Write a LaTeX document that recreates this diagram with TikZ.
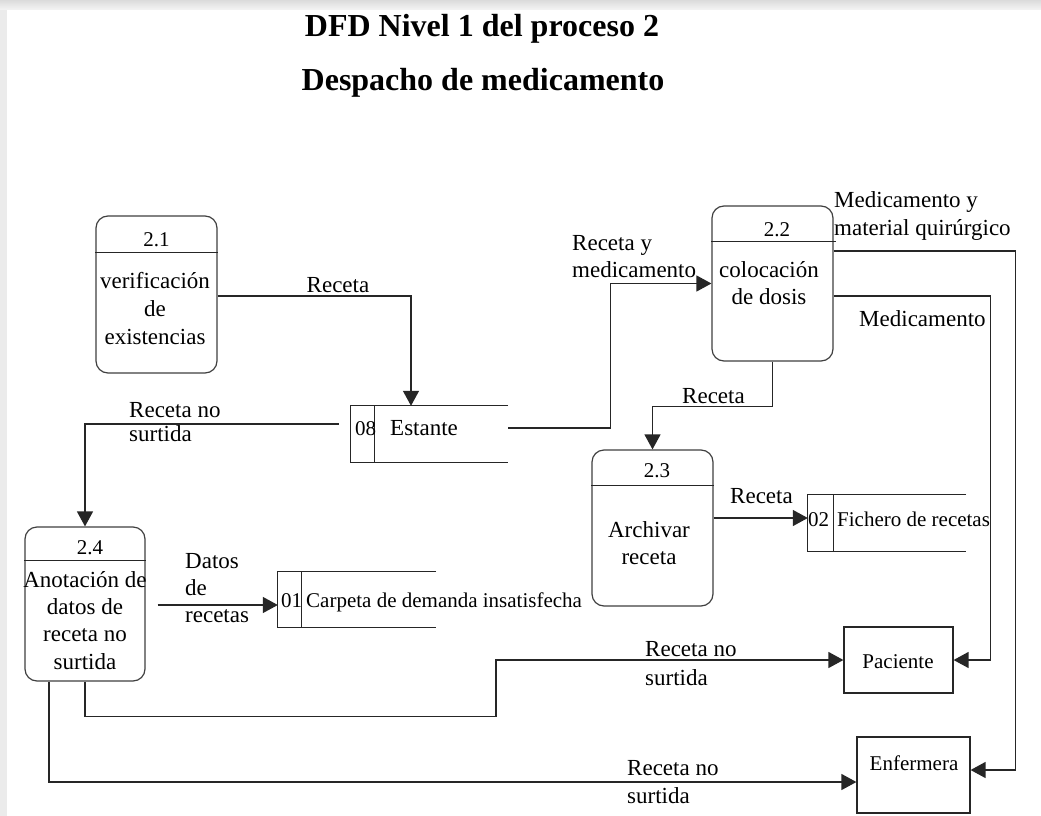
\documentclass[tikz,border=0pt]{standalone}
\usepackage{fontspec}
\setmainfont{Liberation Serif}
\usetikzlibrary{arrows.meta,calc}
\begin{document}
\begin{tikzpicture}[x=1pt,y=-1pt,
  proc/.style={draw=black!75, line width=1.2pt, rounded corners=12pt, inner sep=0pt},
  ext/.style={draw=black!85, line width=1.2pt, inner sep=0pt},
  storebox/.style={inner sep=0pt},
  storeline/.style={draw=black!85, line width=1.2pt},
  divline/.style={draw=black!85, line width=1.2pt},
  flow/.style={draw=black!85, line width=1.3pt, -{Triangle[length=15pt,width=16pt]}},
  lbl/.style={font=\fontsize{23}{27.5}\selectfont, inner sep=0pt, align=left, anchor=base west},
  ptext/.style={font=\fontsize{23}{27.5}\selectfont, inner sep=0pt, align=center, anchor=base},
  num/.style={font=\fontsize{21}{25}\selectfont, inner sep=0pt, anchor=base},
  stxt/.style={font=\fontsize{21}{25}\selectfont, inner sep=0pt, anchor=base west},
  ttl/.style={font=\bfseries\fontsize{32}{38}\selectfont, inner sep=0pt, anchor=base}
]
\useasboundingbox (0,0) rectangle (1041,816);
\fill[white] (0,0) rectangle (1041,816);
% window edge
\shade[top color=black!14, bottom color=black!4] (0,0) rectangle (1041,10);
\fill[black!8] (0,10) rectangle (7,816);

% titles
\node[ttl] (t1) at (482,37) {DFD Nivel 1 del proceso 2};
\node[ttl] (t2) at (483,90) {Despacho de medicamento};

% processes (multi-line texts are placed by the baseline of their last line)
\node[proc, minimum width=121pt, minimum height=157pt] (p21) at (156.5,294.5) {};
\draw[divline] ([yshift=-37pt]p21.north west) -- ([yshift=-37pt]p21.north east);
\node[num] (n21) at (156.5,246) {2.1};
\node[ptext, font=\fontsize{23}{28}\selectfont] (x21) at (155,344) {verificación\\de\\existencias};

\node[proc, minimum width=121pt, minimum height=155pt] (p22) at (772.5,283.5) {};
\draw[divline] ([yshift=-36pt]p22.north west) -- ([xshift=2pt,yshift=-36pt]p22.north east);
\node[num] (n22) at (777,236) {2.2};
\node[ptext, font=\fontsize{23}{27}\selectfont] (x22) at (769,304) {colocación\\de dosis};

\node[proc, minimum width=121pt, minimum height=156pt] (p23) at (652.5,528) {};
\draw[divline] ([yshift=-36pt]p23.north west) -- ([yshift=-36pt]p23.north east);
\node[num] (n23) at (657,477) {2.3};
\node[ptext, font=\fontsize{23}{27}\selectfont] (x23) at (649,564) {Archivar\\receta};

\node[proc, minimum width=120pt, minimum height=154pt] (p24) at (85,604) {};
\draw[divline] ([yshift=-34pt]p24.north west) -- ([yshift=-34pt]p24.north east);
\node[num] (n24) at (90,554) {2.4};
\node[ptext, font=\fontsize{23}{27.3}\selectfont] (x24) at (85,669) {Anotación de\\datos de\\receta no\\surtida};

% data stores
\node[storebox, minimum width=157pt, minimum height=56pt] (s08) at (429.5,434) {};
\draw[storeline] (s08.north east) -- (s08.north west) -- (s08.south west) -- (s08.south east);
\draw[storeline] ([xshift=24pt]s08.north west) -- ([xshift=24pt]s08.south west);
\node[stxt] (i08) at (355,435) {08};
\node[stxt, font=\fontsize{23}{27}\selectfont] (l08) at (390,435) {Estante};

\node[storebox, minimum width=158pt, minimum height=55pt] (s01) at (357,599.5) {};
\draw[storeline] (s01.north east) -- (s01.north west) -- (s01.south west) -- (s01.south east);
\draw[storeline] ([xshift=24pt]s01.north west) -- ([xshift=24pt]s01.south west);
\node[stxt] (i01) at (281,607) {01};
\node[stxt] (l01) at (306,607) {Carpeta de demanda insatisfecha};

\node[storebox, minimum width=158pt, minimum height=56pt] (s02) at (887,523) {};
\draw[storeline] (s02.north east) -- (s02.north west) -- (s02.south west) -- (s02.south east);
\draw[storeline] ([xshift=26pt]s02.north west) -- ([xshift=26pt]s02.south west);
\node[stxt] (i02) at (808,526) {02};
\node[stxt] (l02) at (837,526) {Fichero de recetas};

% external entities
\node[ext, minimum width=109pt, minimum height=66pt] (pac) at (898.5,660) {};
\node[num] (lpac) at (898,668) {Paciente};
\node[ext, minimum width=113pt, minimum height=76pt] (enf) at (913.5,775) {};
\node[num] (lenf) at (914,770) {Enfermera};

% data flows
\draw[flow] ([yshift=-1.5pt]p21.east) -| ([xshift=-18.5pt]s08.north);
\node[lbl, anchor=base] (f1) at (338,292) {Receta};

\draw[flow] ([xshift=-12pt,yshift=10pt]s08.west) -| (p24.north);
\node[lbl, font=\fontsize{23}{24}\selectfont] (f2) at (129,441) {Receta no\\surtida};

\draw[flow] ([yshift=6pt]s08.east) -- ++(102,0) |- (p22.west);
\node[lbl, font=\fontsize{23}{27}\selectfont] (f3) at (572,277) {Receta y\\medicamento};

\draw[flow] ([yshift=32.5pt]p22.east) -- ++(182,0) |- ([yshift=5pt]enf.east);
\node[lbl, font=\fontsize{23}{28}\selectfont] (f4) at (834,235) {Medicamento y\\material quirúrgico};

\draw[flow] ([yshift=-12.5pt]p22.east) -- ++(157,0) |- (pac.east);
\node[lbl] (f5) at (859,326) {Medicamento};

\draw[flow] (p22.south) -- ++(0,45) -| (p23.north);
\node[lbl] (f6) at (682,403) {Receta};

\draw[flow] ([yshift=10pt]p23.east) -- ([yshift=10pt]p23.east -| s02.west);
\node[lbl] (f7) at (730,503) {Receta};

\draw[flow] ([xshift=12pt,yshift=-1pt]p24.east) -- ([yshift=-1pt]p24.east -| s01.west);
\node[lbl, font=\fontsize{23}{27}\selectfont] (f8) at (185,622) {Datos\\de\\recetas};

\draw[flow] (p24.south) -- ++(0,35) -- ++(411,0) |- (pac.west);
\node[lbl, font=\fontsize{23}{29}\selectfont] (f9) at (645,685) {Receta no\\surtida};

\draw[flow] ([xshift=-36pt]p24.south) |- ([yshift=-7pt]enf.west);
\node[lbl, font=\fontsize{23}{28}\selectfont] (f10) at (627,803) {Receta no\\surtida};
\end{tikzpicture}
\end{document}
